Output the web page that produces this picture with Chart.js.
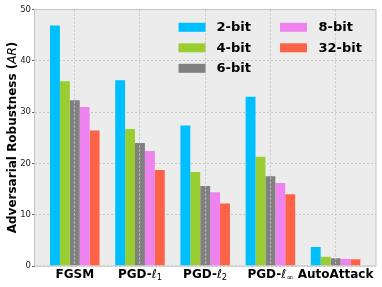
<!DOCTYPE html>
<html>
<head>
<meta charset="utf-8">
<script src="https://cdn.jsdelivr.net/npm/chart.js@4.4.1/dist/chart.umd.min.js"></script>
<style>
  html, body { margin: 0; padding: 0; background: #fff; }
  #wrap { width: 382px; height: 287px; }
</style>
</head>
<body>
<div id="wrap"><canvas id="chart" width="382" height="287"></canvas></div>
<script>
// data
var categories = ['FGSM', 'PGD-ℓ1', 'PGD-ℓ2', 'PGD-ℓ∞', 'AutoAttack'];
var bit2 = [46.9, 36.2, 27.4, 33.0, 3.7];
var bit4 = [36.0, 26.7, 18.3, 21.3, 1.8];
var bit6 = [32.3, 24.0, 15.6, 17.5, 1.5];
var bit8 = [31.0, 22.4, 14.4, 16.2, 1.35];
var bit32 = [26.4, 18.7, 12.2, 14.0, 1.3];
var seriesNames = ['2-bit', '4-bit', '6-bit', '8-bit', '32-bit'];
var yTicks = [0, 10, 20, 30, 40, 50];

var colors = ['#00bfff', '#9acd32', '#808080', '#ee82ee', '#ff6347'];
var FONT = '"DejaVu Sans", sans-serif';

Chart.defaults.font.family = FONT;

function drawParts(ctx, parts, x, y) {
  // parts drawn left to right, centred on x
  var total = 0;
  parts.forEach(function (p) {
    ctx.font = p.f;
    p.w = ctx.measureText(p.t).width;
    total += p.w;
  });
  var cx = x - total / 2;
  ctx.textAlign = 'left';
  ctx.textBaseline = 'middle';
  parts.forEach(function (p) {
    ctx.font = p.f;
    ctx.fillText(p.t, cx, y + (p.dy || 0));
    cx += p.w;
  });
}

function labelParts(text) {
  var bold = 'bold 12px ' + FONT;
  var m = /^(.*)ℓ(.+)$/.exec(text);
  if (!m) return [{ t: text, f: bold }];
  return [
    { t: m[1], f: bold },
    { t: 'ℓ', f: 'oblique 12px ' + FONT },
    { t: m[2], f: '8.5px ' + FONT, dy: 3 }
  ];
}

var extras = {
  id: 'extras',
  beforeDraw: function (chart) {
    var a = chart.chartArea, ctx = chart.ctx;
    ctx.save();
    ctx.fillStyle = '#ececec';
    ctx.fillRect(a.left, a.top, a.right - a.left, a.bottom - a.top);
    ctx.restore();
  },
  afterDraw: function (chart) {
    var a = chart.chartArea, ctx = chart.ctx;
    var xs = chart.scales.x;
    ctx.save();
    // frame
    ctx.strokeStyle = '#c4c4c4';
    ctx.lineWidth = 1;
    ctx.strokeRect(a.left - 0.5, a.top, a.right - a.left + 0.5, a.bottom - a.top);

    // category labels
    ctx.fillStyle = '#000';
    categories.forEach(function (c, i) {
      drawParts(ctx, labelParts(c), xs.getPixelForValue(i), 274.5);
    });

    // y title
    ctx.translate(13, 137.5);
    ctx.rotate(-Math.PI / 2);
    drawParts(ctx, [
      { t: 'Adversarial Robustness (', f: 'bold 12px ' + FONT },
      { t: 'AR', f: 'oblique 12px ' + FONT },
      { t: ')', f: 'bold 12px ' + FONT }
    ], 0, 0);
    ctx.restore();

    // legend, two columns
    ctx.save();
    var cols = [[178.5, 216.5], [280, 318.5]];
    var rows = [27.3, 47.8, 68.3];
    chart.data.datasets.forEach(function (ds, i) {
      var col = i < 3 ? 0 : 1;
      var row = i < 3 ? i : i - 3;
      var sx = cols[col][0], tx = cols[col][1], cy = rows[row];
      ctx.fillStyle = ds.backgroundColor;
      ctx.fillRect(sx, cy - 4.5, 27, 9);
      ctx.fillStyle = '#000';
      ctx.font = 'bold 13px ' + FONT;
      ctx.textAlign = 'left';
      ctx.textBaseline = 'middle';
      ctx.fillText(ds.label, tx, cy + 0.5);
    });
    ctx.restore();
  }
};

var allSeries = [bit2, bit4, bit6, bit8, bit32];

new Chart(document.getElementById('chart').getContext('2d'), {
  type: 'bar',
  data: {
    labels: categories.map(function (c, i) { return i; }),
    datasets: allSeries.map(function (vals, k) {
      return {
        label: seriesNames[k],
        data: vals,
        backgroundColor: colors[k],
        borderWidth: 0,
        categoryPercentage: 0.76,
        barPercentage: 1
      };
    })
  },
  options: {
    responsive: false,
    animation: false,
    devicePixelRatio: 1,
    layout: { padding: { left: 0, top: 9.5, right: 6, bottom: 0 } },
    plugins: {
      legend: { display: false },
      tooltip: { enabled: false }
    },
    scales: {
      x: {
        type: 'linear',
        offset: false,
        min: -0.61,
        max: 4.62,
        afterBuildTicks: function (axis) {
          axis.ticks = categories.map(function (c, i) { return { value: i }; });
        },
        afterFit: function (axis) { axis.height = 21; },
        ticks: { display: false },
        grid: { color: '#c6c6c6', drawTicks: false, offset: false, z: 1 },
        border: { display: false, dash: [2, 2] }
      },
      y: {
        min: 0,
        max: 50,
        afterBuildTicks: function (axis) {
          axis.ticks = yTicks.map(function (v) { return { value: v }; });
        },
        afterFit: function (axis) { axis.width = 35; },
        ticks: { color: '#222', font: { size: 8.5 }, padding: 1 },
        grid: { color: '#c6c6c6', tickLength: 3, tickColor: '#666', tickBorderDash: [] },
        border: { display: false, dash: [2, 2] }
      }
    }
  },
  plugins: [extras]
});
</script>
</body>
</html>
